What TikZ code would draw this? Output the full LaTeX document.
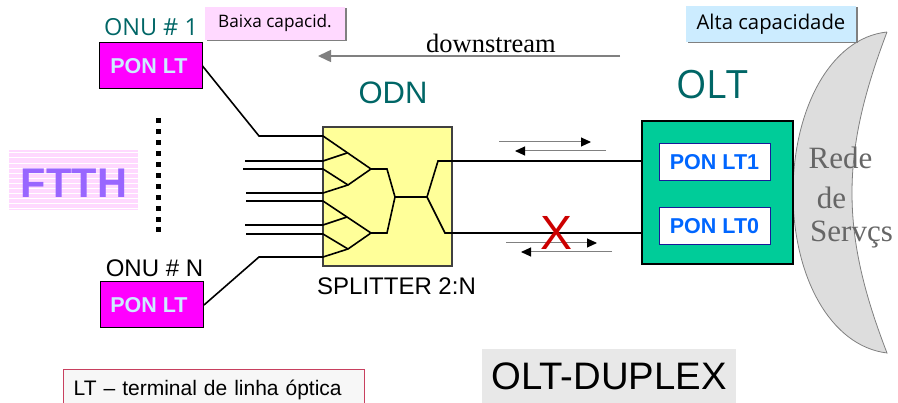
\documentclass[tikz,border=0pt]{standalone}
\usepackage{fontspec}
\setmainfont{Liberation Sans}
\newfontfamily\uifont{Open Sans}
\newfontfamily\romanfont{Liberation Serif}
\newcommand{\fs}[1]{\fontsize{#1}{#1}\selectfont}
\usetikzlibrary{arrows.meta,shadows}
\definecolor{tealtxt}{HTML}{006666}
\definecolor{pinkbg}{HTML}{FFD9FF}
\definecolor{bluebg}{HTML}{CCECFF}
\definecolor{onupink}{HTML}{FF00FF}
\definecolor{oltgreen}{HTML}{00CC99}
\definecolor{splityellow}{HTML}{FFFF99}
\definecolor{ltblue}{HTML}{0066FF}
\definecolor{ltnavy}{HTML}{1A1A99}
\definecolor{ftthpurple}{HTML}{9966FF}
\definecolor{cloudgray}{HTML}{DDDDDD}
\definecolor{legendred}{HTML}{C8405F}
\definecolor{crossred}{HTML}{CC0000}
\begin{document}
\begin{tikzpicture}[x=1pt,y=-1pt]
  \tikzstyle{every node}=[inner sep=0pt]
  \tikzstyle{onubox}=[draw=black, fill=onupink, line width=1pt, minimum width=103pt, minimum height=46pt, font=\bfseries\fs{21.5}, text=bluebg]
  \tikzstyle{ltbox}=[draw=ltnavy, fill=white, line width=1pt, minimum width=111pt, minimum height=37pt, font=\bfseries\fs{21.5}, text=ltblue]
  \tikzstyle{note}=[general shadow={fill=gray, shadow xshift=1.5pt, shadow yshift=-1.5pt}]
  \tikzstyle{fibre}=[black, line width=1.6pt]
  \tikzstyle{flow}=[gray, line width=1pt, -{Triangle[black, length=10pt, width=9pt]}]
  \useasboundingbox (0,0) rectangle (898,403);
% rede de servicos
  \fill[cloudgray] (887,32) .. controls (830,38) and (793,110) .. (793,193)
    .. controls (793,276) and (830,346) .. (887,353)
    .. controls (865,296) and (852,246) .. (852,193)
    .. controls (852,140) and (865,90) .. (887,32);
  \draw[gray, line width=0.8pt] (887,32) .. controls (830,38) and (793,110) .. (793,193)
    .. controls (793,276) and (830,346) .. (887,353)
    .. controls (865,296) and (852,246) .. (852,193)
    .. controls (852,140) and (865,90) .. (887,32);
% ftth
  \fill[pinkbg] (9,150) rectangle (138,210);
  \foreach \y in {152,157,163,168,173,178,183,188,193,198,203,208}
    \fill[white] (9,\y) rectangle (138,\y+1);
  \node[text=ftthpurple, font=\bfseries\fs{41.5}] (ftth) at (74,183) {FTTH};
  \foreach \y in {0,...,10}
    \fill (155.5,118.5+10.9*\y) rectangle (160.5,123.5+10.9*\y);
% onu
  \node[onubox] (onu1) at (150.5,66) {PON LT\kern3pt};
  \node[onubox] (onun) at (152,305) {PON LT\kern6pt};
  \node[text=tealtxt, font=\uifont\fs{23.5}] (onu1txt) at (151,27) {ONU \# 1};
  \node[font=\fs{24}] (onuntxt) at (154.5,268) {ONU \# N};
% splitter
  \node[draw=black!75, fill=splityellow, line width=1.4pt, minimum width=129pt, minimum height=139pt] (split) at (387.5,196.5) {};
  \node[font=\fs{24}] (splittxt) at (396.5,286) {SPLITTER 2:N};
  \node[text=tealtxt, font=\fs{31}] (odn) at (393,93) {ODN};
  \coordinate (a1) at (323,136);
  \coordinate (a2) at (323,161);
  \coordinate (a3) at (323,169);
  \coordinate (a4) at (323,193);
  \coordinate (a5) at (323,201);
  \coordinate (a6) at (323,225);
  \coordinate (a7) at (323,234);
  \coordinate (a8) at (323,257);
  \coordinate (j1) at (347,153);
  \coordinate (j2) at (348,185);
  \coordinate (j3) at (347,217);
  \coordinate (j4) at (348,249);
  \coordinate (k1) at (371,169);
  \coordinate (k2) at (371,233);
  \coordinate (m1) at (395,197);
  \coordinate (m2) at (427,197);
% olt
  \node[draw=black, fill=oltgreen, line width=1.2pt, minimum width=151pt, minimum height=143pt] (olt) at (717.5,192.5) {};
  \node[ltbox] (lt1) at (714.5,162.5) {PON LT1};
  \node[ltbox] (lt0) at (714.5,226.5) {PON LT0};
  \node[text=tealtxt, font=\uifont\fs{39}] (olttxt) at (712,85) {OLT};
% fibres
  \draw[fibre] (onu1.east) -- (259,136) -- (a1) -- (k1) -- (387,169) -- (m1) -- (m2) -- (438,161) -- (olt.west |- 0,161);
  \draw[fibre] (onun.east) -- (259,257) -- (a8) -- (j4) -- (k2) -- (387,233) -- (m1);
  \draw[fibre] (m2) -- (445,233) -- (olt.west |- 0,233);
  \draw[fibre] (245,161) -- (a2) -- (j1);
  \draw[fibre] (243,169) -- (a3) -- (j2) -- (k1);
  \draw[fibre] (246,193) -- (a4) -- (j2);
  \draw[fibre] (246,201) -- (a5) -- (k2);
  \draw[fibre] (245,225) -- (a6) -- (j3);
  \draw[fibre] (246,234) -- (a7) -- (j4);
% flows
  \coordinate (up1) at (499,142);
  \coordinate (up2) at (591,142);
  \coordinate (up3) at (606,151);
  \coordinate (up4) at (515,151);
  \coordinate (lo1) at (506,243);
  \coordinate (lo2) at (597,243);
  \coordinate (lo3) at (612,252);
  \coordinate (lo4) at (521,252);
  \draw[flow] (up1) -- (up2);
  \draw[flow] (up3) -- (up4);
  \draw[flow] (lo1) -- (lo2);
  \draw[flow] (lo3) -- (lo4);
  \node[text=crossred, font=\fs{48}] (cross) at (557,233) {X};
% downstream
  \coordinate (ds1) at (620,56);
  \coordinate (ds2) at (318,56);
  \draw[gray, line width=1.5pt, -{Triangle[gray, length=13pt, width=12pt]}] (ds1) -- (ds2);
  \node[font=\romanfont\fs{26.5}] (dstxt) at (491,43) {downstream};
% notes
  \node[note, fill=pinkbg, minimum width=140pt, minimum height=33pt, font=\uifont\fs{17.2}] (baixa) at (275,23.5) {Baixa capacid.};
  \node[note, fill=bluebg, minimum width=170pt, minimum height=36pt, font=\uifont\fs{20.3}] (alta) at (771,24) {Alta capacidade};
  \node[text=black!60, font=\romanfont\fs{31}] (rede) at (840.5,158) {Rede};
  \node[text=black!60, font=\romanfont\fs{31}] (de) at (831.5,198) {de};
  \node[text=black!60, font=\romanfont\fs{31}] (servcs) at (851.5,235) {Servçs};
% legend
  \node[fill=black!9, minimum width=254pt, minimum height=54pt, font=\fs{38.3}] (duplex) at (609,376) {OLT-DUPLEX};
  \node[draw=legendred, fill=black!3, line width=1.3pt, anchor=north west, inner xsep=10pt, inner ysep=10pt, text width=281pt, text depth=24pt, font=\fs{21}] (legend) at (63,369) {LT -- terminal de linha óptica};
\end{tikzpicture}
\end{document}
